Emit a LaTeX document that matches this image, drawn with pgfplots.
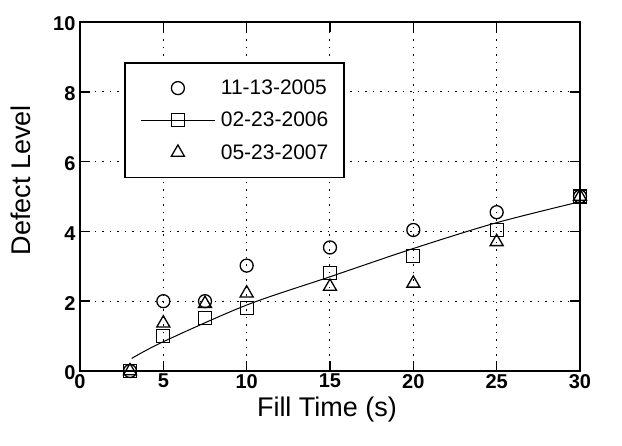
\documentclass[border=0pt]{standalone}
\usepackage{fontspec}
\setmainfont{Liberation Sans}
\usepackage{pgfplots}
\pgfplotsset{compat=1.18}
\begin{document}
\begin{tikzpicture}
\begin{axis}[
 scale only axis, width=500pt, height=349pt,
 xmin=0,xmax=30,ymin=0,ymax=10,
 xtick={0,5,...,30}, ytick={0,2,...,10},
 /pgf/number format/assume math mode=true,
 tick label style={font=\fontsize{20}{20}\selectfont\bfseries},
 yticklabel style={yshift=-2pt, xshift=-1pt},
 xticklabel style={yshift=-2pt, inner ysep=1pt},
 major tick length=10pt,
 tick style={black, line width=1.5pt},
 axis line style={line width=1.4pt},
 grid=major,
 major grid style={black, line width=1pt, dash pattern=on 1.5pt off 6pt},
 xlabel={Fill Time (s)}, ylabel={Defect Level},
 label style={font=\fontsize{27}{27}\selectfont},
 xlabel style={at={(axis description cs:0.494,-0.11)}, anchor=center, inner ysep=1pt},
 ylabel style={at={(axis description cs:-0.118,0.547)}, anchor=center},
 clip=false,
 legend style={at={(axis description cs:0.088,0.885)}, anchor=north west,
   draw=black, line width=1.8pt, fill=white,
   font=\fontsize{21}{21}\selectfont,
   inner xsep=12pt, inner ysep=14pt, row sep=10pt,
   cells={anchor=west},
   nodes={inner xsep=4pt, inner ysep=3pt}},
 legend image code/.code={\path[draw=none] (-4pt,0pt) -- (76pt,0pt); \draw[line width=1.3pt] plot coordinates {(37pt,0pt)};},
 legend cell align=left,
]
\addplot[only marks, mark=o, mark size=6.5pt, line width=1.3pt, black]
 coordinates {(3,0)(5,2.0)(7.5,2.0)(10,3.02)(15,3.54)(20,4.04)(25,4.55)(30,5.0)};
\addlegendentry{11-13-2005}
\addplot[only marks, mark=square, mark size=6.5pt, line width=1.3pt, black,
 legend image code/.code={\path[draw=none] (-4pt,0pt) -- (76pt,0pt); \draw[line width=0.9pt] (0pt,0pt)--(74pt,0pt); \draw[line width=1.3pt] plot coordinates {(37pt,0pt)};}]
 coordinates {(3,0)(5,1.0)(7.5,1.51)(10,1.80)(15,2.80)(20,3.30)(25,4.04)(30,5.0)};
\addlegendentry{02-23-2006}
\addplot[only marks, mark=triangle, mark size=7.5pt, line width=1.3pt, black]
 coordinates {(3,0)(5,1.37)(7.5,1.93)(10,2.23)(15,2.42)(20,2.51)(25,3.70)(30,5.0)};
\addlegendentry{05-23-2007}
\addplot[black, line width=1pt, smooth, forget plot]
 coordinates {(3.1,0.36)(5,0.84)(10,1.89)(15,2.70)(20,3.51)(25,4.25)(30,4.85)};
\end{axis}
\pgfresetboundingbox
\path (-80pt,-75pt) rectangle (542pt,371pt);
\end{tikzpicture}
\end{document}
